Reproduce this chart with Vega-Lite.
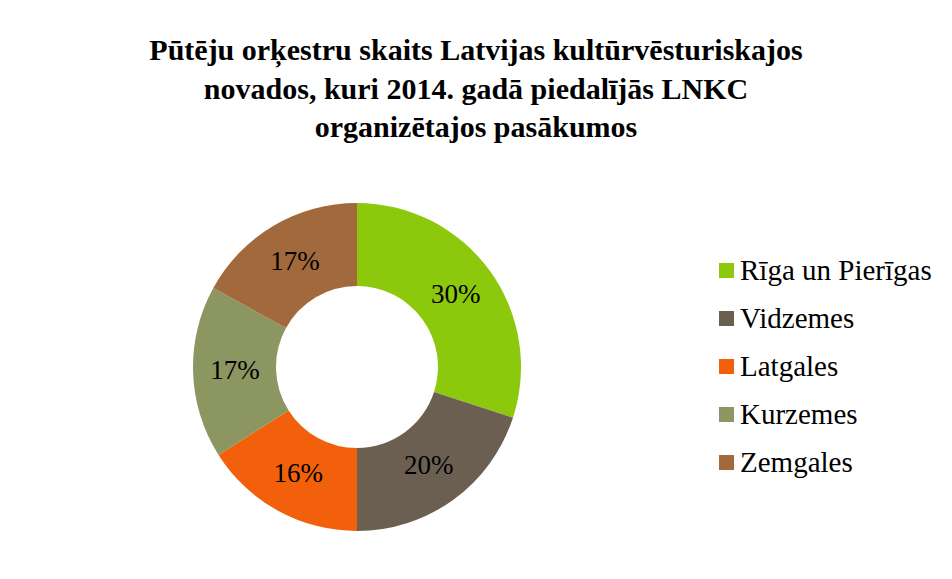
{
  "$schema": "https://vega.github.io/schema/vega-lite/v6.json",
  "width": 700,
  "height": 414,
  "autosize": "none",
  "padding": {"left": 7, "top": 160, "right": 245, "bottom": 5},
  "background": "white",
  "title": {
    "text": ["Pūtēju orķestru skaits Latvijas kultūrvēsturiskajos", "novados, kuri 2014. gadā piedalījās LNKC", "organizētajos pasākumos"],
    "font": "Liberation Serif",
    "fontSize": 30,
    "fontWeight": "bold",
    "lineHeight": 38.5,
    "anchor": "middle",
    "frame": "group",
    "dx": 119,
    "offset": 17,
    "color": "#000000"
  },
  "data": {
    "values": [
      {"region": "Rīga un Pierīgas", "share": 0.30, "idx": 1},
      {"region": "Vidzemes", "share": 0.20, "idx": 2},
      {"region": "Latgales", "share": 0.16, "idx": 3},
      {"region": "Kurzemes", "share": 0.17, "idx": 4},
      {"region": "Zemgales", "share": 0.17, "idx": 5}
    ]
  },
  "encoding": {
    "theta": {"field": "share", "type": "quantitative", "stack": true},
    "order": {"field": "idx", "type": "quantitative"},
    "color": {
      "field": "region",
      "type": "nominal",
      "scale": {
        "domain": ["Rīga un Pierīgas", "Vidzemes", "Latgales", "Kurzemes", "Zemgales"],
        "range": ["#8cc80c", "#6b5f52", "#f2600c", "#8c9660", "#a26a3c"]
      },
      "legend": {
        "orient": "none",
        "legendX": 705,
        "legendY": 96,
        "title": null,
        "padding": 0,
        "labelFont": "Liberation Serif",
        "labelFontSize": 29,
        "labelColor": "#000000",
        "labelLimit": 400,
        "labelOffset": -1,
        "symbolType": "square",
        "symbolSize": 225,
        "symbolStrokeWidth": 0,
        "rowPadding": 18
      }
    }
  },
  "layer": [
    {"mark": {"type": "arc", "innerRadius": 81, "outerRadius": 164}},
    {
      "mark": {"type": "text", "radius": 122, "font": "Liberation Serif", "fontSize": 27},
      "encoding": {
        "text": {"field": "share", "type": "quantitative", "format": ".0%"},
        "color": {"value": "#000000"}
      }
    }
  ],
  "config": {"font": "Liberation Serif", "view": {"stroke": null}}
}
